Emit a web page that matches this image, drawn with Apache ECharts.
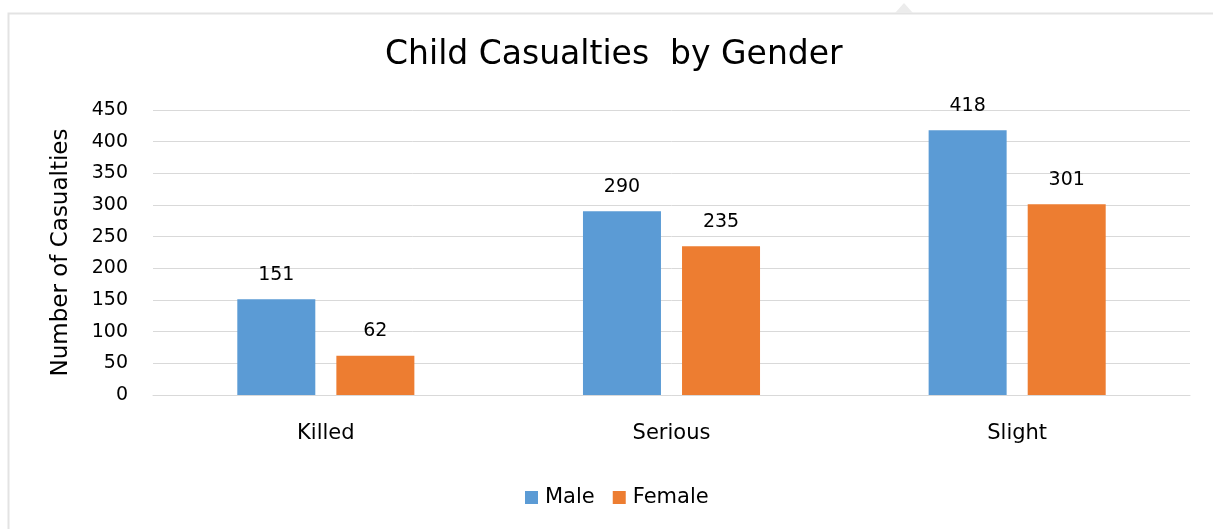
<!DOCTYPE html>
<html>
<head>
<meta charset="utf-8">
<script src="https://cdn.jsdelivr.net/npm/echarts@6/dist/echarts.min.js"></script>
<style>
  html, body { margin: 0; padding: 0; background: #fff; }
  #chart { width: 1213px; height: 529px; }
</style>
</head>
<body>
<div id="chart"></div>
<script>
// Casualty severity categories and counts per gender
const categories = ['Killed', 'Serious', 'Slight'];
const maleValues = [151, 290, 418];
const femaleValues = [62, 235, 301];
const seriesNames = ['Male', 'Female'];

const FONT = '"DejaVu Sans", sans-serif';
const chart = echarts.init(document.getElementById('chart'));

const labelStyle = {
  show: true,
  position: 'top',
  distance: 15,
  color: '#000',
  fontSize: 19,
  fontFamily: FONT
};

chart.setOption({
  animation: false,
  backgroundColor: '#fff',
  title: {
    text: 'Child Casualties  by Gender',
    left: 380,
    top: 34,
    textStyle: { color: '#000', fontSize: 33, fontWeight: 'normal', fontFamily: FONT }
  },
  legend: {
    data: seriesNames,
    bottom: 16,
    left: 520,
    icon: 'rect',
    itemWidth: 13,
    itemHeight: 13,
    itemGap: 18,
    itemStyle: { borderWidth: 0 },
    textStyle: { color: '#000', fontSize: 21, fontFamily: FONT, padding: [0, 0, 0, 2] }
  },
  grid: { left: 153, right: 23, top: 110, bottom: 134 },
  xAxis: {
    type: 'category',
    data: categories,
    axisLine: { lineStyle: { color: '#d9d9d9', width: 1 } },
    axisTick: { show: false },
    axisLabel: { color: '#000', fontSize: 21, fontFamily: FONT, margin: 28 }
  },
  yAxis: {
    type: 'value',
    min: 0,
    max: 450,
    interval: 50,
    name: 'Number of Casualties',
    nameLocation: 'middle',
    nameGap: 80,
    nameTextStyle: { color: '#000', fontSize: 23, fontFamily: FONT },
    axisLine: { show: false },
    axisTick: { show: false },
    axisLabel: { color: '#000', fontSize: 19, fontFamily: FONT, margin: 25 },
    splitLine: { lineStyle: { color: '#d9d9d9', width: 1 } }
  },
  series: [
    {
      name: seriesNames[0],
      type: 'bar',
      data: maleValues,
      barWidth: 78,
      barGap: '27%',
      itemStyle: { color: '#5B9BD5' },
      label: labelStyle
    },
    {
      name: seriesNames[1],
      type: 'bar',
      data: femaleValues,
      barWidth: 78,
      barGap: '27%',
      itemStyle: { color: '#ED7D31' },
      label: labelStyle
    }
  ],
  graphic: [
    // chart frame
    {
      type: 'rect',
      shape: { x: 8.5, y: 13.5, width: 1220, height: 530 },
      style: { fill: 'none', stroke: '#e3e3e3', lineWidth: 2 },
      silent: true,
      z: -1
    },
    // small pointer notch on the frame's top edge
    {
      type: 'polygon',
      shape: { points: [[895, 13], [904, 3], [913, 13]] },
      style: { fill: '#ececec' },
      silent: true,
      z: -1
    }
  ]
});
</script>
</body>
</html>
